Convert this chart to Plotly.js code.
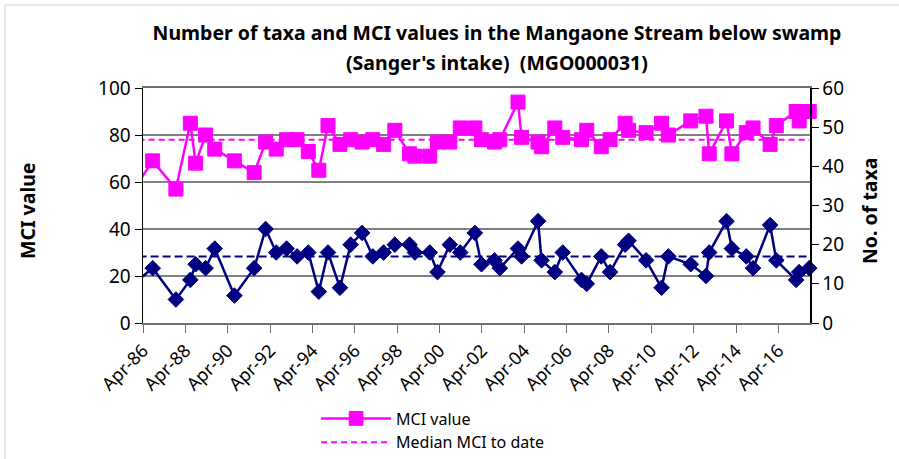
<!DOCTYPE html>
<html><head><meta charset="utf-8">
<script src="https://cdn.plot.ly/plotly-3.0.1.min.js"></script>
<style>html,body{margin:0;padding:0;background:#fff}#chart{width:899px;height:459px}</style>
</head><body><div id="chart"></div>
<script>
const sampleDates = ['1986-01-15','1986-09-15','1987-10-20','1988-06-25','1988-09-25','1989-03-15','1989-08-20','1990-07-25','1991-07-01','1992-01-15',
 '1992-07-15','1993-01-10','1993-07-10','1994-01-20','1994-07-20','1994-12-25','1995-07-20','1996-01-20','1996-08-05','1997-02-05',
 '1997-08-10','1998-02-20','1998-11-01','1999-02-01','1999-10-15','2000-02-25','2000-09-25','2001-03-25','2001-12-01','2002-03-25',
 '2002-11-05','2003-02-05','2003-12-15','2004-02-15','2004-11-25','2005-01-25','2005-09-10','2006-01-25','2006-12-15','2007-03-15',
 '2007-11-20','2008-04-20','2009-01-05','2009-03-05','2010-01-01','2010-09-25','2011-01-20','2012-02-10','2012-10-30','2012-12-25',
 '2013-10-20','2014-01-20','2014-09-25','2015-01-20','2015-11-10','2016-02-25','2017-02-01','2017-03-25','2017-09-15'];
const mciValues = [60,69,57,85,68,80,74,69,64,77,
 74,78,78,73,65,84,76,78,77,78,
 76,82,72,71,71,77,77,83,83,78,
 77,78,94,79,77,75,83,79,78,82,
 75,78,85,82,81,85,80,86,88,72,
 86,72,81,83,76,84,90,86,90];
const taxaCounts = [11,14,6,11,15,14,19,7,14,24,
 18,19,17,18,8,18,9,20,23,17,
 18,20,20,18,18,13,20,18,23,15,
 16,14,19,17,26,16,13,18,11,10,
 17,13,20,21,16,9,17,15,12,18,
 26,19,17,14,25,16,11,13,14];
const medianDates = ['1986-01-15','2017-09-15'];
const medianMCI = [78, 78];
const medianTaxa = [17, 17];
const xRange = ['1986-04-01','2017-09-28'];
const titleLine1 = 'Number of taxa and MCI values in the Mangaone Stream below swamp';
const titleLine2 = '(Sanger\'s intake)\u00a0 (MGO000031)';

const FONT = 'Noto Sans, Open Sans, sans-serif';
const MAG = '#FF00FF', NAVY = '#000080';
const squareSizes = sampleDates.map((d, i) => i === 0 ? 0 : 14);
const diamondSizes = sampleDates.map((d, i) => i === 0 ? 0 : 12);

const traces = [
  {x: sampleDates, y: mciValues, name: 'MCI value', type: 'scatter', mode: 'lines+markers',
   line: {color: MAG, width: 2.5},
   marker: {symbol: 'square', size: squareSizes, color: MAG, opacity: 1, line: {color: MAG, width: 1}},
   cliponaxis: false, legendgroup: 'a'},
  {x: medianDates, y: medianMCI, name: 'Median MCI to date', type: 'scatter', mode: 'lines',
   line: {color: MAG, width: 2, dash: '6px,4px'}, legendgroup: 'b'},
  {x: sampleDates, y: taxaCounts, name: 'No. of taxa', type: 'scatter', mode: 'lines+markers', yaxis: 'y2',
   line: {color: NAVY, width: 2.5},
   marker: {symbol: 'diamond', size: diamondSizes, color: NAVY, opacity: 1, line: {color: NAVY, width: 1}},
   cliponaxis: false, showlegend: false},
  {x: medianDates, y: medianTaxa, name: 'Median taxa to date', type: 'scatter', mode: 'lines', yaxis: 'y2',
   line: {color: NAVY, width: 2, dash: '8px,4px'}, showlegend: false}
];

const layout = {
  width: 899, height: 459,
  margin: {l: 143, r: 89, t: 88, b: 136, autoexpand: false},
  paper_bgcolor: '#fff', plot_bgcolor: '#fff',
  font: {family: FONT, color: '#000'},
  title: {text: titleLine1, x: 497/899, xanchor: 'center', xref: 'container',
          y: 1 - 33/459, yanchor: 'middle', yref: 'container',
          font: {family: FONT, size: 19.5, weight: 700, color: '#000'}},
  xaxis: {type: 'date', range: xRange, tick0: '1986-04-01', dtick: 'M24', tickformat: '%b-%y',
          tickangle: -45, ticks: 'outside', ticklen: 8, tickcolor: '#707070', tickwidth: 1,
          showline: true, linecolor: '#707070', linewidth: 2, mirror: true,
          showgrid: false, zeroline: false, tickfont: {size: 18, family: FONT}},
  yaxis: {range: [0, 100], dtick: 20, ticks: 'outside', ticklen: 7, tickcolor: '#000',
          showline: true, linecolor: '#000', linewidth: 1.5, gridcolor: '#808080', gridwidth: 2,
          zeroline: false, tickfont: {size: 19, family: FONT}},
  yaxis2: {range: [0, 60], dtick: 10, overlaying: 'y', side: 'right', ticks: 'outside', ticklen: 7,
           tickcolor: '#000', showline: true, linecolor: '#000', linewidth: 1.5, showgrid: false,
           zeroline: false, tickfont: {size: 19, family: FONT}},
  showlegend: true,
  legend: {x: 0.2595, xanchor: 'left', y: -0.334, yanchor: 'top', orientation: 'v',
           traceorder: 'grouped', tracegroupgap: 0, itemwidth: 70,
           font: {size: 16, family: FONT}, bgcolor: 'rgba(0,0,0,0)'},
  shapes: [
    {type: 'line', xref: 'paper', yref: 'y', x0: 0, x1: 1, y0: 40, y1: 40, line: {color: '#000', width: 1.2}, layer: 'below'},
    {type: 'rect', xref: 'paper', yref: 'paper', x0: (5-143)/667, x1: (905-143)/667, y0: -0.7, y1: (323-5)/235,
     line: {color: '#d0d0d0', width: 1}, fillcolor: 'rgba(0,0,0,0)', layer: 'below'}
  ],
  annotations: [
    {text: titleLine2, xref: 'paper', yref: 'paper', x: (497-143)/667, y: (323.3-62)/235.5,
     xanchor: 'center', yanchor: 'middle', showarrow: false,
     font: {size: 19.5, family: FONT, weight: 700}},
    {text: '<b>MCI value</b>', xref: 'paper', yref: 'paper', x: (27-143)/667, y: (323-211)/235,
     xanchor: 'center', yanchor: 'middle', textangle: -90, showarrow: false, font: {size: 19.5, family: FONT}},
    {text: '<b>No. of taxa</b>', xref: 'paper', yref: 'paper', x: (869-143)/667, y: (323-211)/235,
     xanchor: 'center', yanchor: 'middle', textangle: -90, showarrow: false, font: {size: 19.5, family: FONT}}
  ]
};

Plotly.newPlot('chart', traces, layout, {displayModeBar: false, staticPlot: true});
</script></body></html>
